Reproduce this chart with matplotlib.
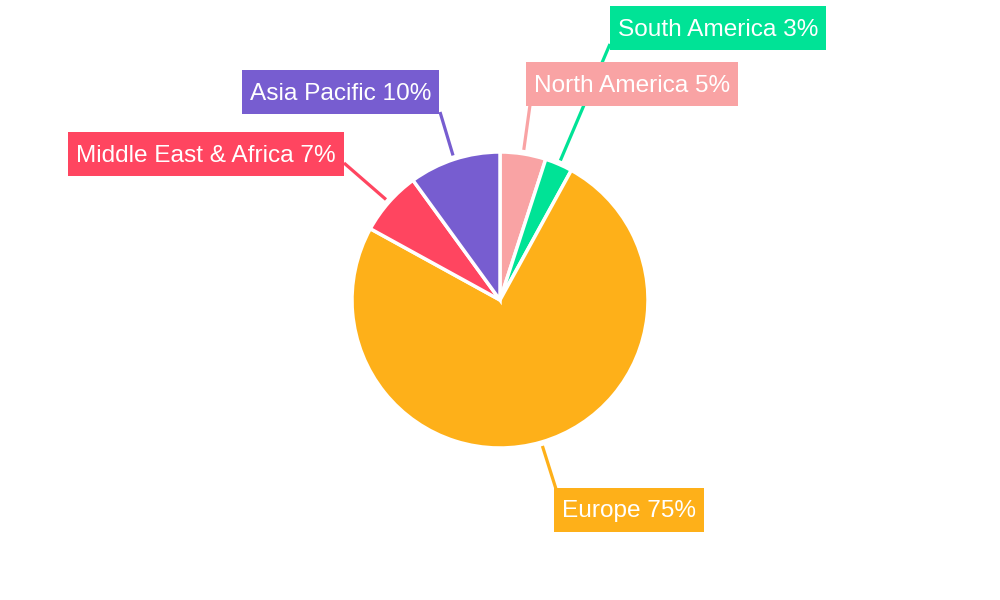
import numpy as np
import matplotlib
matplotlib.use("Agg")
import matplotlib.pyplot as plt
from matplotlib.patches import Rectangle

regions = ["North America", "South America", "Europe", "Middle East & Africa", "Asia Pacific"]
shares = [5, 3, 75, 7, 10]
colors = ["#F9A3A4", "#00E396", "#FEB019", "#FF4560", "#775DD0"]

# label box left/center-y and leader end point, in pixel coords (y down)
label_pos = {
    "North America": (526, 84, 530, 105),
    "South America": (610, 28, 610, 44),
    "Europe": (554, 510, 556, 489),
    "Middle East & Africa": (68, 154, 344, 163),
    "Asia Pacific": (242, 92, 440, 112),
}

W, H = 1000, 600
fig = plt.figure(figsize=(10, 6), dpi=100)
ax = fig.add_axes([0, 0, 1, 1])
ax.set_xlim(0, W)
ax.set_ylim(0, H)
ax.set_aspect("equal")
ax.axis("off")

cx, cy, r = 500, H - 300, 148
wedges, _ = ax.pie(shares, colors=colors, startangle=90, counterclock=False,
                   center=(cx, cy), radius=r, normalize=True,
                   wedgeprops=dict(edgecolor="white", linewidth=2.5))
ax.set_xlim(0, W)
ax.set_ylim(0, H)

texts = []
for w, name, val, col in zip(wedges, regions, shares, colors):
    mid = np.deg2rad((w.theta1 + w.theta2) / 2)
    sx = cx + (r + 4) * np.cos(mid)
    sy = cy + (r + 4) * np.sin(mid)
    bx, by, ex, ey = label_pos[name]
    ax.plot([sx, ex], [sy, H - ey], color=col, lw=2.3, solid_capstyle="butt", zorder=1)
    t = ax.text(bx + 8, H - by - 1.5, f"{name} {val}%", color="white", fontsize=17.6,
                family="Liberation Sans", ha="left", va="center", zorder=4)
    texts.append((t, col, bx, by))

fig.canvas.draw()
rend = fig.canvas.get_renderer()
for t, col, bx, by in texts:
    ext = t.get_window_extent(rend)
    wpx = ext.width + 16
    ax.add_patch(Rectangle((bx, H - by - 22), wpx, 44, fc=col, ec="none", zorder=3))

fig.savefig("out.png", dpi=100, facecolor="white")
